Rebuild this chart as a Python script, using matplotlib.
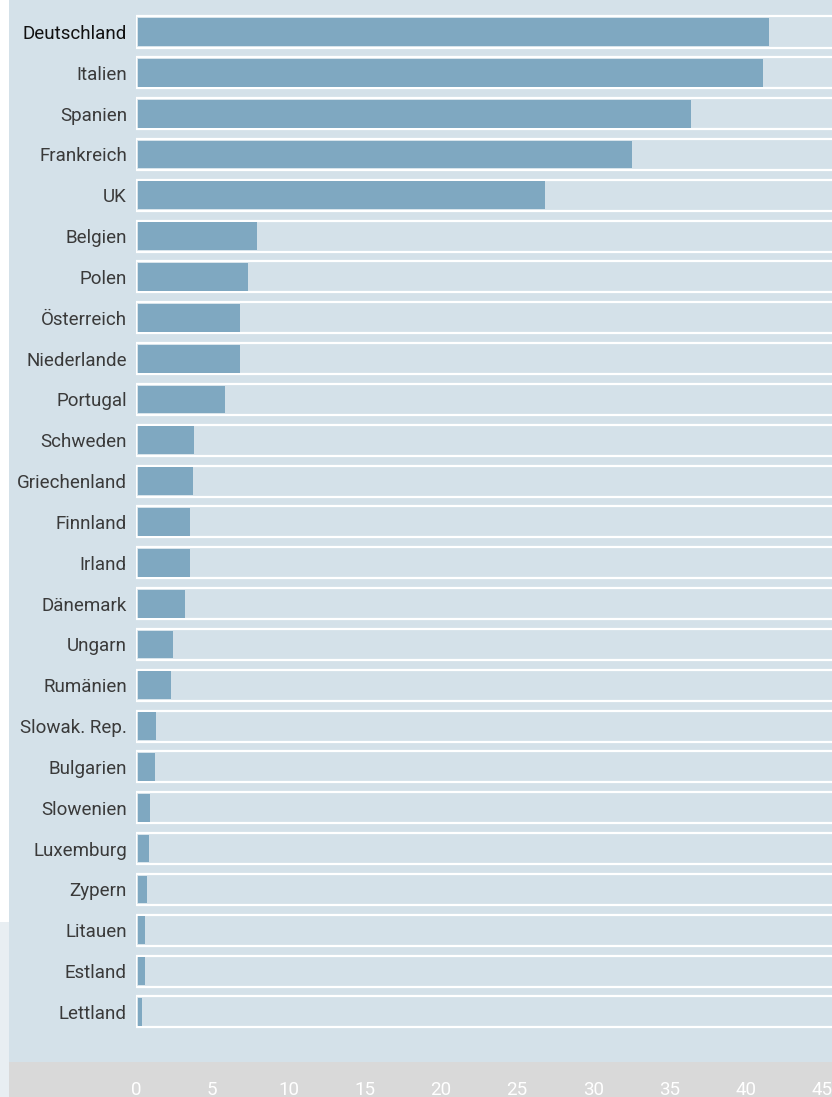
import matplotlib
matplotlib.use("Agg")
import matplotlib.pyplot as plt
from matplotlib.patches import Rectangle

plt.rcParams["font.family"] = ["Roboto", "DejaVu Sans"]

# Daten
laender = ["Deutschland", "Italien", "Spanien", "Frankreich", "UK", "Belgien", "Polen",
           "Österreich", "Niederlande", "Portugal", "Schweden", "Griechenland", "Finnland",
           "Irland", "Dänemark", "Ungarn", "Rumänien", "Slowak. Rep.", "Bulgarien",
           "Slowenien", "Luxemburg", "Zypern", "Litauen", "Estland", "Lettland"]
werte = [41.4, 41.0, 36.3, 32.4, 26.7, 7.8, 7.2, 6.7, 6.7, 5.7, 3.7, 3.6, 3.4, 3.4, 3.1,
         2.3, 2.2, 1.2, 1.1, 0.8, 0.75, 0.6, 0.45, 0.45, 0.3]
xticks = [0, 5, 10, 15, 20, 25, 30, 35, 40, 45]

bg = "#d4e1e9"
bar_col = "#7fa8c1"

W, H = 832, 1097
fig = plt.figure(figsize=(W / 100, H / 100), dpi=100)
fig.patch.set_facecolor("white")

# Hintergrundflaechen
fig.patches.append(Rectangle((9 / W, 0), 1 - 9 / W, 1, transform=fig.transFigure,
                             facecolor=bg, edgecolor="none", zorder=-2))
fig.patches.append(Rectangle((0, 0), 9 / W, (H - 922) / H, transform=fig.transFigure,
                             facecolor="#e8eef2", edgecolor="none", zorder=-2))
fig.patches.append(Rectangle((9 / W, 0), 1 - 9 / W, (H - 1062) / H, transform=fig.transFigure,
                             facecolor="#d9d9d9", edgecolor="none", zorder=-1))

px = (822 - 136) / 45.0
ax = fig.add_axes([136 / W, (H - 1062) / H, (W - 136) / W, 1062 / H])
ax.set_facecolor("none")
xmax = (W - 136) / px
ax.set_xlim(0, xmax)
row = 40.83
ax.set_ylim((1062 - 32) / row, -32 / row)

ypos = list(range(len(laender)))
ax.barh(ypos, [xmax + 1] * len(laender), height=0.76, color=bg, edgecolor="white",
        linewidth=1.6, zorder=1)
ax.barh(ypos, werte, height=0.68, left=0.12, color=bar_col, edgecolor="none", zorder=2)

ax.set_yticks(ypos)
ax.set_yticklabels(laender, fontsize=13.5, color="#3a3a3a")
ax.get_yticklabels()[0].set_color("#111111")
ax.tick_params(axis="y", length=0, pad=6.5)

ax.set_xticks(xticks)
ax.set_xticklabels([str(t) for t in xticks], fontsize=13.5, color="white")
ax.tick_params(axis="x", length=0, pad=13.5)

for s in ax.spines.values():
    s.set_visible(False)

fig.savefig("out.png", dpi=100)
